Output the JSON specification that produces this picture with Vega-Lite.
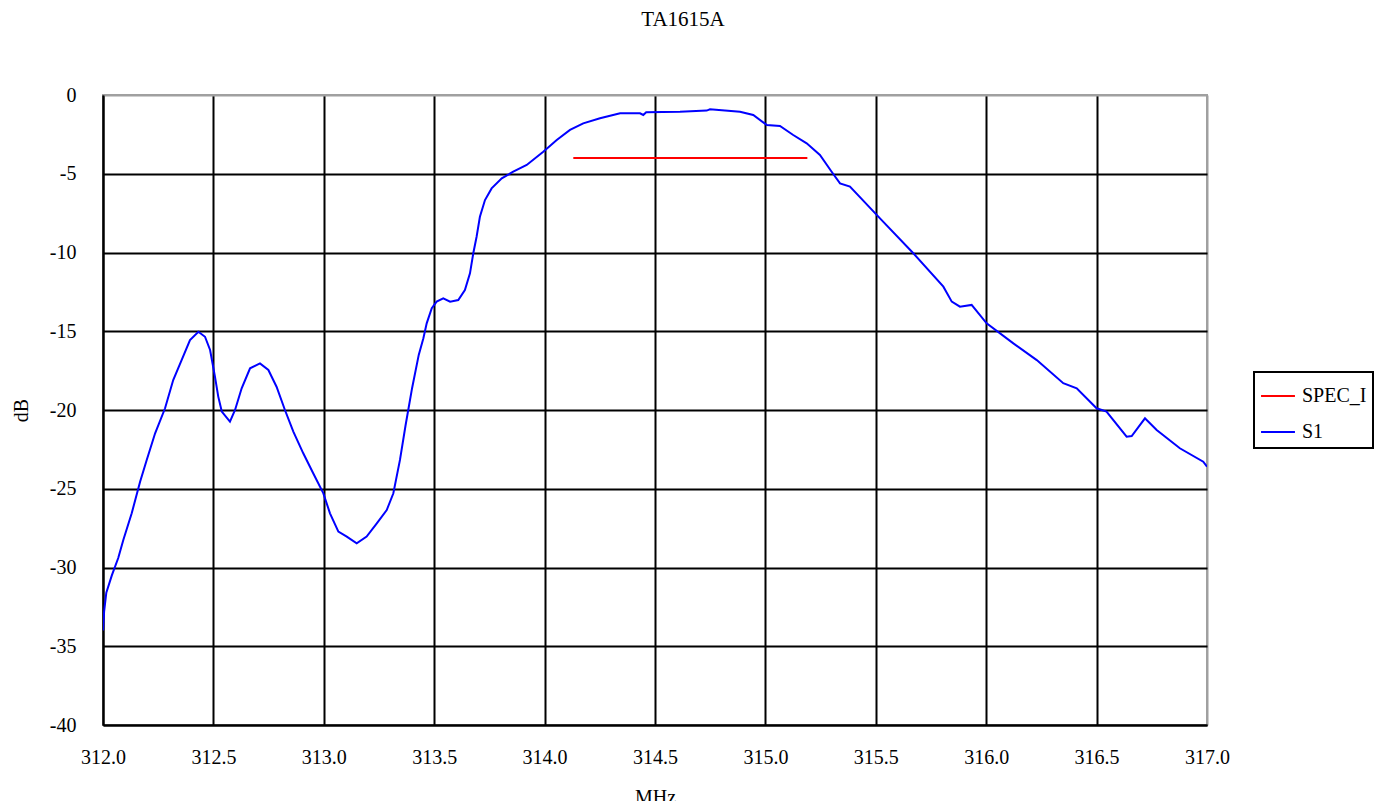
{
  "$schema": "https://vega.github.io/schema/vega-lite/v6.json",
  "autosize": "none",
  "width": 1104,
  "height": 630,
  "padding": {"left": 103, "top": 95, "right": 180, "bottom": 76},
  "background": "white",
  "title": {"text": "TA1615A", "font": "Liberation Serif", "fontSize": 21, "fontWeight": "normal", "color": "black", "anchor": "middle", "dx": 28, "offset": 55},
  "config": {
    "view": {"stroke": "#a0a0a0", "strokeWidth": 2},
    "axis": {"labelFont": "Liberation Serif", "labelFontSize": 20, "labelColor": "black", "titleFont": "Liberation Serif", "titleFontSize": 20, "titleFontWeight": "normal", "titleColor": "black", "domainColor": "black", "domainWidth": 2, "tickSize": 0, "gridWidth": 2, "gridOpacity": 1}
  },
  "data": {"values": [
    {"f": 314.13, "db": -4, "s": "SPEC_I"},
    {"f": 315.19, "db": -4, "s": "SPEC_I"},
    {"f": 312.0, "db": -34.0, "s": "S1"},
    {"f": 312.005, "db": -32.8, "s": "S1"},
    {"f": 312.015, "db": -31.6, "s": "S1"},
    {"f": 312.04, "db": -30.5, "s": "S1"},
    {"f": 312.069, "db": -29.4, "s": "S1"},
    {"f": 312.092, "db": -28.25, "s": "S1"},
    {"f": 312.13, "db": -26.56, "s": "S1"},
    {"f": 312.168, "db": -24.55, "s": "S1"},
    {"f": 312.198, "db": -23.17, "s": "S1"},
    {"f": 312.236, "db": -21.48, "s": "S1"},
    {"f": 312.281, "db": -19.89, "s": "S1"},
    {"f": 312.318, "db": -18.1, "s": "S1"},
    {"f": 312.356, "db": -16.83, "s": "S1"},
    {"f": 312.394, "db": -15.56, "s": "S1"},
    {"f": 312.432, "db": -15.03, "s": "S1"},
    {"f": 312.462, "db": -15.35, "s": "S1"},
    {"f": 312.485, "db": -16.19, "s": "S1"},
    {"f": 312.507, "db": -17.88, "s": "S1"},
    {"f": 312.522, "db": -19.15, "s": "S1"},
    {"f": 312.538, "db": -20.1, "s": "S1"},
    {"f": 312.575, "db": -20.74, "s": "S1"},
    {"f": 312.598, "db": -20.0, "s": "S1"},
    {"f": 312.628, "db": -18.62, "s": "S1"},
    {"f": 312.666, "db": -17.35, "s": "S1"},
    {"f": 312.711, "db": -17.04, "s": "S1"},
    {"f": 312.749, "db": -17.46, "s": "S1"},
    {"f": 312.786, "db": -18.52, "s": "S1"},
    {"f": 312.824, "db": -20.0, "s": "S1"},
    {"f": 312.862, "db": -21.37, "s": "S1"},
    {"f": 312.907, "db": -22.75, "s": "S1"},
    {"f": 312.952, "db": -24.02, "s": "S1"},
    {"f": 312.998, "db": -25.29, "s": "S1"},
    {"f": 313.028, "db": -26.56, "s": "S1"},
    {"f": 313.066, "db": -27.72, "s": "S1"},
    {"f": 313.104, "db": -28.04, "s": "S1"},
    {"f": 313.149, "db": -28.47, "s": "S1"},
    {"f": 313.194, "db": -28.04, "s": "S1"},
    {"f": 313.24, "db": -27.2, "s": "S1"},
    {"f": 313.285, "db": -26.35, "s": "S1"},
    {"f": 313.315, "db": -25.29, "s": "S1"},
    {"f": 313.345, "db": -23.17, "s": "S1"},
    {"f": 313.37, "db": -21.0, "s": "S1"},
    {"f": 313.4, "db": -18.6, "s": "S1"},
    {"f": 313.43, "db": -16.5, "s": "S1"},
    {"f": 313.451, "db": -15.45, "s": "S1"},
    {"f": 313.466, "db": -14.5, "s": "S1"},
    {"f": 313.489, "db": -13.54, "s": "S1"},
    {"f": 313.511, "db": -13.12, "s": "S1"},
    {"f": 313.541, "db": -12.91, "s": "S1"},
    {"f": 313.572, "db": -13.12, "s": "S1"},
    {"f": 313.609, "db": -13.02, "s": "S1"},
    {"f": 313.639, "db": -12.38, "s": "S1"},
    {"f": 313.662, "db": -11.32, "s": "S1"},
    {"f": 313.677, "db": -10.05, "s": "S1"},
    {"f": 313.692, "db": -9.0, "s": "S1"},
    {"f": 313.707, "db": -7.73, "s": "S1"},
    {"f": 313.73, "db": -6.67, "s": "S1"},
    {"f": 313.76, "db": -5.93, "s": "S1"},
    {"f": 313.806, "db": -5.29, "s": "S1"},
    {"f": 313.858, "db": -4.87, "s": "S1"},
    {"f": 313.919, "db": -4.44, "s": "S1"},
    {"f": 313.994, "db": -3.6, "s": "S1"},
    {"f": 314.055, "db": -2.86, "s": "S1"},
    {"f": 314.115, "db": -2.22, "s": "S1"},
    {"f": 314.175, "db": -1.8, "s": "S1"},
    {"f": 314.251, "db": -1.48, "s": "S1"},
    {"f": 314.342, "db": -1.16, "s": "S1"},
    {"f": 314.432, "db": -1.16, "s": "S1"},
    {"f": 314.447, "db": -1.27, "s": "S1"},
    {"f": 314.46, "db": -1.1, "s": "S1"},
    {"f": 314.613, "db": -1.06, "s": "S1"},
    {"f": 314.734, "db": -0.99, "s": "S1"},
    {"f": 314.749, "db": -0.91, "s": "S1"},
    {"f": 314.885, "db": -1.06, "s": "S1"},
    {"f": 314.945, "db": -1.27, "s": "S1"},
    {"f": 315.006, "db": -1.9, "s": "S1"},
    {"f": 315.066, "db": -1.97, "s": "S1"},
    {"f": 315.126, "db": -2.54, "s": "S1"},
    {"f": 315.187, "db": -3.07, "s": "S1"},
    {"f": 315.247, "db": -3.81, "s": "S1"},
    {"f": 315.3, "db": -4.87, "s": "S1"},
    {"f": 315.338, "db": -5.61, "s": "S1"},
    {"f": 315.383, "db": -5.82, "s": "S1"},
    {"f": 315.519, "db": -7.83, "s": "S1"},
    {"f": 315.67, "db": -10.05, "s": "S1"},
    {"f": 315.806, "db": -12.17, "s": "S1"},
    {"f": 315.844, "db": -13.12, "s": "S1"},
    {"f": 315.881, "db": -13.44, "s": "S1"},
    {"f": 315.934, "db": -13.33, "s": "S1"},
    {"f": 316.002, "db": -14.5, "s": "S1"},
    {"f": 316.123, "db": -15.77, "s": "S1"},
    {"f": 316.229, "db": -16.83, "s": "S1"},
    {"f": 316.349, "db": -18.3, "s": "S1"},
    {"f": 316.41, "db": -18.62, "s": "S1"},
    {"f": 316.5, "db": -19.89, "s": "S1"},
    {"f": 316.545, "db": -20.1, "s": "S1"},
    {"f": 316.636, "db": -21.69, "s": "S1"},
    {"f": 316.659, "db": -21.65, "s": "S1"},
    {"f": 316.719, "db": -20.53, "s": "S1"},
    {"f": 316.772, "db": -21.27, "s": "S1"},
    {"f": 316.877, "db": -22.43, "s": "S1"},
    {"f": 316.983, "db": -23.28, "s": "S1"},
    {"f": 317.0, "db": -23.6, "s": "S1"}
  ]},
  "mark": {"type": "line", "strokeWidth": 2, "clip": true},
  "encoding": {
    "x": {"field": "f", "type": "quantitative", "scale": {"domain": [312, 317], "nice": false, "zero": false},
      "axis": {"title": "MHz", "values": [312, 312.5, 313, 313.5, 314, 314.5, 315, 315.5, 316, 316.5, 317], "format": ".1f", "labelPadding": 22, "titlePadding": 20, "labelFlush": false, "labelOverlap": false,
        "gridColor": {"condition": {"test": "datum.value == 317", "value": "#a0a0a0"}, "value": "black"}}},
    "y": {"field": "db", "type": "quantitative", "scale": {"domain": [-40, 0], "nice": false},
      "axis": {"title": "dB", "values": [-40, -35, -30, -25, -20, -15, -10, -5, 0], "labelExpr": "datum.value == 0 ? '0' : '-' + abs(datum.value)", "labelPadding": 27, "titlePadding": 18, "labelFlush": false,
        "gridColor": {"condition": {"test": "datum.value == 0", "value": "#a0a0a0"}, "value": "black"}}},
    "color": {"field": "s", "type": "nominal", "scale": {"domain": ["SPEC_I", "S1"], "range": ["#ff0000", "#0000ff"]},
      "legend": {"title": null, "orient": "none", "legendX": 1151, "legendY": 277, "strokeColor": "black", "padding": 6, "symbolType": "stroke", "symbolSize": 1150, "symbolStrokeWidth": 2, "labelFont": "Liberation Serif", "labelFontSize": 20, "labelColor": "black", "rowPadding": 8, "labelOffset": 6, "fillColor": "white",
        "encode": {"legend": {"update": {"strokeWidth": {"value": 2}}}}}}
  }
}
